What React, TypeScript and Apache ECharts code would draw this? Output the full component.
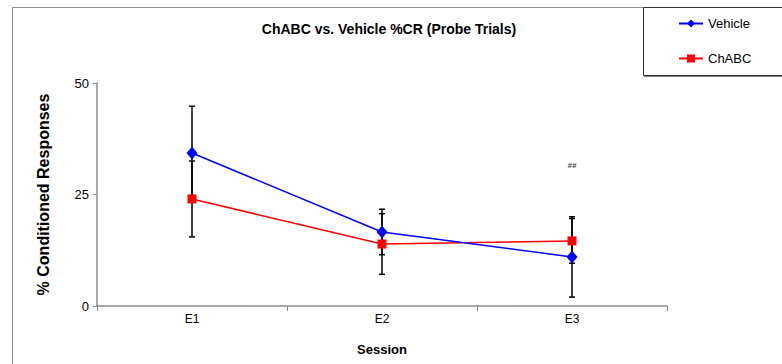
import React, { useEffect, useRef } from "react";
import * as echarts from "echarts";

const categories = ["E1", "E2", "E3"];
const vehicle = [34.3, 16.6, 11.0];
const vehicleErr = [10.5, 5.1, 9.0];
const chabc = [24.0, 13.9, 14.6];
const chabcErr = [8.5, 6.8, 5.0];
const yTicks = [0, 25, 50];
const annotation = { category: "E3", value: 31.4, text: "##" };

const FONT = 'Arial, "Liberation Sans", sans-serif';

function errData(vals: number[], errs: number[]) {
  return vals.map((v, i) => [i, v - errs[i], v + errs[i]]);
}

function renderErr(params: any, api: any) {
  const x = api.value(0);
  const lo = api.coord([x, api.value(1)]);
  const hi = api.coord([x, api.value(2)]);
  const cap = 3;
  const style = { stroke: "#000", lineWidth: 1.5 };
  return {
    type: "group",
    children: [
      { type: "line", shape: { x1: lo[0], y1: lo[1], x2: hi[0], y2: hi[1] }, style },
      { type: "line", shape: { x1: lo[0] - cap, y1: lo[1], x2: lo[0] + cap, y2: lo[1] }, style },
      { type: "line", shape: { x1: hi[0] - cap, y1: hi[1], x2: hi[0] + cap, y2: hi[1] }, style },
    ],
  };
}

export default function App() {
  const ref = useRef<HTMLDivElement>(null);
  useEffect(() => {
    if (!ref.current) return;
    const chart = echarts.init(ref.current, null, { renderer: "svg" });
    chart.setOption({
      animation: false,
      backgroundColor: "#fff",
      textStyle: { fontFamily: FONT },
      title: {
        text: "ChABC vs. Vehicle %CR (Probe Trials)",
        left: 384,
        textAlign: "center",
        top: 17,
        textStyle: { fontSize: 14, fontWeight: "bold", color: "#000", fontFamily: FONT },
      },
      graphic: [
        {
          type: "rect",
          shape: { x: 12.5, y: 7.5, width: 800, height: 400 },
          style: { fill: "none", stroke: "#8c8c8c", lineWidth: 1 },
          z: -1,
        },
        {
          type: "rect",
          shape: { x: 643.5, y: 7.5, width: 160, height: 68 },
          style: {
            fill: "#fff",
            stroke: "#333",
            lineWidth: 1,
            shadowColor: "rgba(0,0,0,0.5)",
            shadowOffsetX: 1,
            shadowOffsetY: 1,
            shadowBlur: 1,
          },
          z: 0,
        },
      ],
      legend: {
        orient: "vertical",
        left: 678,
        top: 17,
        itemWidth: 24,
        itemHeight: 10,
        itemGap: 22,
        padding: 0,
        z: 10,
        textStyle: { fontSize: 13, color: "#000", fontFamily: FONT },
        data: ["Vehicle", "ChABC"],
      },
      grid: { left: 97, right: 115, top: 83, bottom: 58 },
      xAxis: {
        type: "category",
        data: categories,
        boundaryGap: true,
        name: "Session",
        nameLocation: "middle",
        nameGap: 37,
        nameTextStyle: { fontSize: 13, fontWeight: "bold", color: "#000", fontFamily: FONT },
        axisLine: { lineStyle: { color: "#8c8c8c", width: 1.5 } },
        axisTick: { show: true, length: 5, alignWithLabel: false, lineStyle: { color: "#8c8c8c" } },
        axisLabel: { fontSize: 12, color: "#000", margin: 7, fontFamily: FONT },
        splitLine: { show: false },
      },
      yAxis: {
        type: "value",
        min: yTicks[0],
        max: yTicks[yTicks.length - 1],
        interval: 25,
        name: "% Conditioned Responses",
        nameLocation: "middle",
        nameGap: 46,
        nameRotate: 90,
        nameTextStyle: { fontSize: 16, fontWeight: "bold", color: "#000", fontFamily: FONT },
        axisLine: { show: true, lineStyle: { color: "#8c8c8c", width: 1.5 } },
        axisTick: { show: true, length: 4, lineStyle: { color: "#8c8c8c" } },
        axisLabel: { fontSize: 13, color: "#000", margin: 8, fontFamily: FONT },
        splitLine: { show: false },
      },
      series: [
        {
          type: "custom",
          name: "vehErr",
          renderItem: renderErr,
          data: errData(vehicle, vehicleErr),
          encode: { x: 0, y: [1, 2] },
          z: 1,
          silent: true,
        },
        {
          type: "custom",
          name: "chErr",
          renderItem: renderErr,
          data: errData(chabc, chabcErr),
          encode: { x: 0, y: [1, 2] },
          z: 1,
          silent: true,
        },
        {
          type: "line",
          name: "Vehicle",
          data: vehicle,
          symbol: "diamond",
          symbolSize: [11, 13],
          lineStyle: { color: "#0000ff", width: 1.5 },
          itemStyle: { color: "#0000ff" },
          z: 3,
        },
        {
          type: "line",
          name: "ChABC",
          data: chabc,
          symbol: "rect",
          symbolSize: 9,
          lineStyle: { color: "#ff0000", width: 1.5 },
          itemStyle: { color: "#ff0000" },
          z: 2,
          markPoint: {
            symbol: "circle",
            symbolSize: 0,
            data: [
              {
                coord: [annotation.category, annotation.value],
                label: {
                  show: true,
                  formatter: annotation.text,
                  fontSize: 8,
                  fontStyle: "italic",
                  fontWeight: "bold",
                  color: "#444",
                  position: "inside",
                },
              },
            ],
          },
        },
      ],
    });
    return () => chart.dispose();
  }, []);
  return (
    <div
      ref={ref}
      style={{ position: "fixed", left: 0, top: 0, width: 782, height: 364 }}
    />
  );
}
